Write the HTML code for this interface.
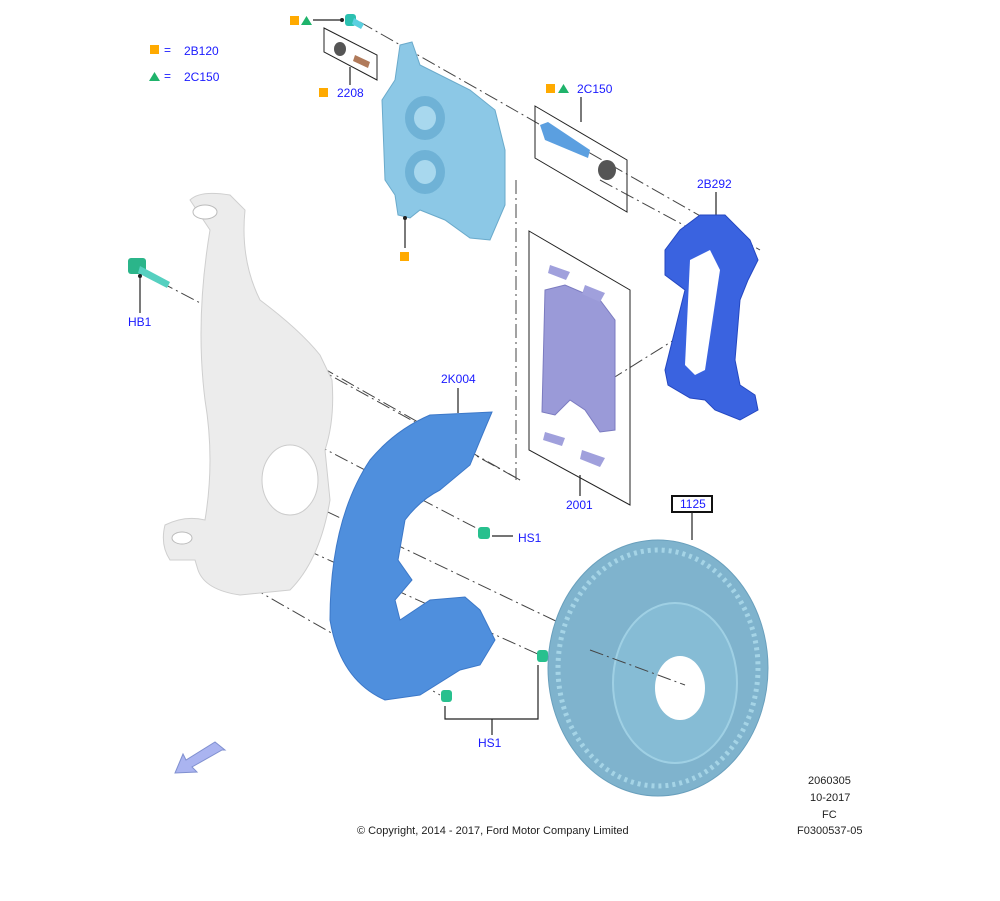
<!DOCTYPE html>
<html><head><style>
body{margin:0;background:#fff;}
svg{display:block;font-family:"Liberation Sans",sans-serif;}
.t{fill:#1a1aff;font-size:12px;}
.k{fill:#222;font-size:11px;}
.d{stroke:#444;stroke-width:1;fill:none;stroke-dasharray:14 4 2 4;}
.l{stroke:#222;stroke-width:1.2;fill:none;}
</style></head><body>
<svg width="1000" height="901" viewBox="0 0 1000 901">
<rect width="1000" height="901" fill="#fff"/>
<!-- legend -->
<rect x="150" y="45" width="9" height="9" fill="#ffaa00"/><text x="164" y="54" class="t">=</text><text x="184" y="55" class="t">2B120</text>
<polygon points="149,81 154.5,72 160,81" fill="#1fb36b"/><text x="164" y="80" class="t">=</text><text x="184" y="81" class="t">2C150</text>

<!-- dash-dot lines -->
<path class="d" d="M360 22 L760 250"/>
<path class="d" d="M600 180 L730 250"/>
<path class="d" d="M160 282 L300 355"/>
<path class="d" d="M230 320 L520 480"/>
<path class="d" d="M300 355 L520 480"/>
<path class="d" d="M250 410 L480 530"/>
<path class="d" d="M240 470 L700 690"/>
<path class="d" d="M240 520 L540 655"/>
<path class="d" d="M230 575 L440 695"/>
<path class="d" d="M516 180 L516 480"/>
<path class="d" d="M610 380 L690 330"/>

<!-- knuckle -->
<path d="M190 200 Q200 190 230 195 L245 210 Q240 260 260 300 Q300 330 320 355 L332 380 Q335 420 325 450 L330 500 Q320 560 290 590 L240 595 Q205 590 198 570 L195 560 L170 560 Q160 545 165 525 Q185 515 205 520 Q215 460 205 400 Q195 320 210 230 Z" fill="#ececec" stroke="#cfcfcf"/>
<ellipse cx="205" cy="212" rx="12" ry="7" fill="#fff" stroke="#bbb"/>
<ellipse cx="290" cy="480" rx="28" ry="35" fill="#fff" stroke="#ccc"/>
<ellipse cx="182" cy="538" rx="10" ry="6" fill="#fff" stroke="#bbb"/>

<!-- HB1 bolt -->
<rect x="128" y="258" width="18" height="16" rx="3" fill="#2bb58a"/>
<path d="M140 266 L170 282 L167 288 L138 273 Z" fill="#56d0c0"/>
<path class="l" d="M140 276 L140 313"/><circle cx="140" cy="276" r="2" fill="#222"/>
<text x="128" y="326" class="t">HB1</text>

<!-- caliper -->
<path d="M400 45 L412 42 L420 65 L470 90 L495 110 L505 150 L505 205 L490 240 L470 238 L445 220 L420 210 L410 218 L398 215 L395 195 L385 180 L382 100 L395 80 Z" fill="#8cc8e6" stroke="#6aaacb"/>
<ellipse cx="425" cy="118" rx="20" ry="22" fill="#6fb2d6"/><ellipse cx="425" cy="118" rx="11" ry="12" fill="#a8d8ee"/>
<ellipse cx="425" cy="172" rx="20" ry="22" fill="#6fb2d6"/><ellipse cx="425" cy="172" rx="11" ry="12" fill="#a8d8ee"/>
<path class="l" d="M405 218 L405 248"/><circle cx="405" cy="218" r="2" fill="#222"/>
<rect x="400" y="252" width="9" height="9" fill="#ffaa00"/>

<!-- top bolt -->
<rect x="290" y="16" width="9" height="9" fill="#ffaa00"/><polygon points="301,25 306.5,16 312,25" fill="#1fb36b"/>
<path class="l" d="M313 20 L342 20"/><circle cx="342" cy="20" r="2" fill="#222"/>
<rect x="345" y="14" width="11" height="12" rx="3" fill="#2bc0b0"/><path d="M354 18 L364 24 L361 29 L352 24Z" fill="#5ad0e0"/>
<!-- 2208 box -->
<polygon points="324,28 377,55 377,80 324,52" fill="none" stroke="#222"/>
<ellipse cx="340" cy="49" rx="6" ry="7" fill="#555"/>
<path d="M355 55 L370 62 L368 68 L353 61Z" fill="#b07a5a"/>
<path class="l" d="M350 67 L350 85"/>
<rect x="319" y="88" width="9" height="9" fill="#ffaa00"/><text x="337" y="97" class="t">2208</text>

<!-- 2C150 box -->
<rect x="546" y="84" width="9" height="9" fill="#ffaa00"/><polygon points="558,93 563.5,84 569,93" fill="#1fb36b"/>
<text x="577" y="93" class="t">2C150</text>
<path class="l" d="M581 97 L581 122"/>
<polygon points="535,106 627,160 627,212 535,158" fill="none" stroke="#222"/>
<path d="M540 125 L548 122 L590 150 L588 158 L545 140 Z" fill="#5b9fe0"/>
<ellipse cx="607" cy="170" rx="9" ry="10" fill="#555"/>

<!-- 2B292 bracket -->
<text x="697" y="188" class="t">2B292</text><path class="l" d="M716 192 L716 215"/>
<path d="M700 215 L725 215 L750 240 L758 260 L748 280 L740 300 L735 360 L740 385 L755 395 L758 410 L740 420 L715 410 L705 400 L690 398 L668 385 L665 370 L675 330 L685 290 L665 275 L665 250 L680 230 Z" fill="#3a63e0" stroke="#2447c0"/>
<path d="M690 260 L710 250 L720 270 L705 370 L695 375 L685 365 Z" fill="#fff"/>

<!-- pads box 2001 -->
<polygon points="529,231 630,290 630,505 529,450" fill="none" stroke="#222"/>
<path d="M545 290 L565 285 L600 300 L615 320 L615 430 L600 432 L585 410 L570 400 L555 415 L542 412 Z" fill="#9a9ad8" stroke="#7b7bc0"/>
<path d="M550 265 L570 272 L566 280 L548 273Z" fill="#a0a0dc"/><path d="M585 285 L605 293 L600 302 L582 294Z" fill="#a0a0dc"/>
<path d="M545 432 L565 438 L562 446 L543 440Z" fill="#a0a0dc"/><path d="M582 450 L605 458 L600 467 L580 459Z" fill="#a0a0dc"/>
<path class="l" d="M580 475 L580 496"/><text x="566" y="509" class="t">2001</text>

<!-- shield 2K004 -->
<text x="441" y="383" class="t">2K004</text><path class="l" d="M458 388 L458 413"/>
<path d="M430 415 L492 412 Q480 440 470 465 L440 490 Q420 500 405 520 L398 560 L412 580 L395 600 L400 620 L430 600 L465 597 L480 610 L495 640 L480 665 L460 670 L420 695 L385 700 Q340 680 330 620 Q330 520 370 460 Q395 430 430 415 Z" fill="#4f8fdd" stroke="#3c78c8"/>
<!-- HS1 -->
<rect x="478" y="527" width="12" height="12" rx="3" fill="#28c08e"/><path class="l" d="M492 536 L513 536"/>
<text x="518" y="542" class="t">HS1</text>
<rect x="537" y="650" width="11" height="12" rx="3" fill="#28c08e"/><rect x="441" y="690" width="11" height="12" rx="3" fill="#28c08e"/>
<path class="l" d="M445 706 L445 719 L538 719 L538 665"/><path class="l" d="M492 719 L492 735"/>
<text x="478" y="747" class="t">HS1</text>

<!-- rotor -->
<text x="0" y="0"></text>
<rect x="672" y="496" width="40" height="16" fill="#fff" stroke="#111" stroke-width="2"/>
<text x="680" y="508" class="t">1125</text>
<path class="l" d="M692 512 L692 540"/>
<ellipse cx="658" cy="668" rx="110" ry="128" fill="#7fb3cd" stroke="#6aa0bd"/>
<ellipse cx="658" cy="668" rx="100" ry="118" fill="none" stroke="#a5d4e6" stroke-width="5" stroke-dasharray="3 4"/>
<ellipse cx="675" cy="683" rx="62" ry="80" fill="#86bcd5" stroke="#9fd0e4" stroke-width="2"/>
<ellipse cx="680" cy="688" rx="25" ry="32" fill="#fff"/>
<path class="d" d="M590 650 L685 685"/>

<!-- arrow -->
<path d="M225 750 L215 742 L186 760 L183 754 L175 773 L197 772 L192 767 L222 750 Z" fill="#aab4f0" stroke="#8090d0"/>

<!-- footer -->
<text x="357" y="834" class="k">© Copyright, 2014 - 2017, Ford Motor Company Limited</text>
<text x="808" y="784" class="k">2060305</text>
<text x="810" y="801" class="k">10-2017</text>
<text x="822" y="818" class="k">FC</text>
<text x="797" y="834" class="k">F0300537-05</text>
</svg>
</body></html>
